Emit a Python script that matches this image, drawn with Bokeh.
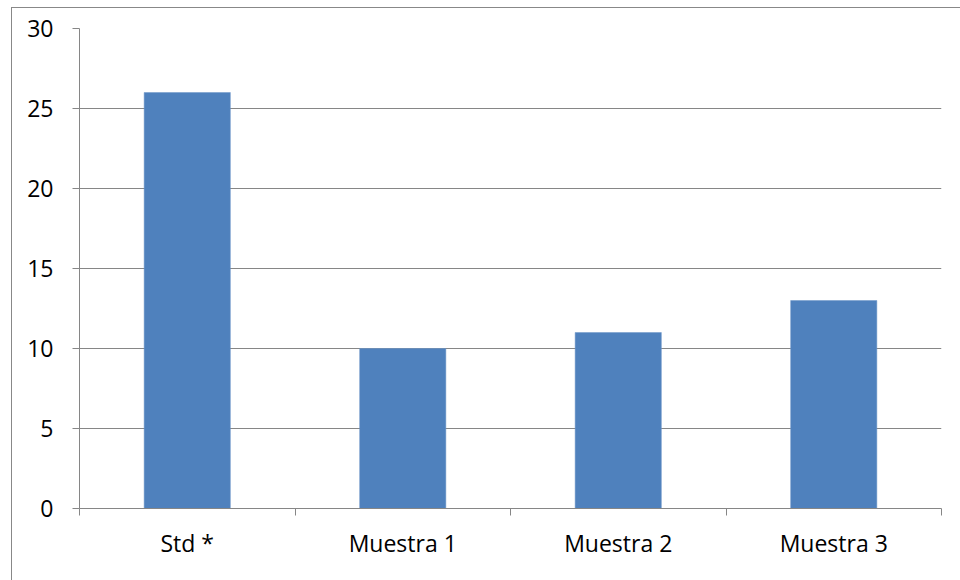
from bokeh.plotting import figure
from bokeh.models import Range1d, FixedTicker, InlineStyleSheet
from bokeh.embed import file_html
from bokeh.resources import INLINE

categories = ["Std *", "Muestra 1", "Muestra 2", "Muestra 3"]
values = [26, 10, 11, 13]
y_ticks = [0, 5, 10, 15, 20, 25, 30]

positions = [i + 0.5 for i in range(len(categories))]
boundaries = list(range(len(categories) + 1))

# outer chart border: only its top and left edges fall inside the window
border_css = InlineStyleSheet(css="""
:host { position: relative; overflow: hidden; }
:host::after {
  content: "";
  position: absolute;
  left: 11px; top: 7px;
  width: 1200px; height: 900px;
  border-left: 1.5px solid #888888;
  border-top: 1.5px solid #888888;
  pointer-events: none;
}
""")

p = figure(width=960, height=580, output_backend="svg", toolbar_location=None,
           x_range=Range1d(0, len(categories)), y_range=Range1d(0, 30),
           min_border_left=79, min_border_right=19, min_border_top=28, min_border_bottom=72)
p.stylesheets = [border_css]
p.outline_line_color = None
p.background_fill_color = "white"
p.border_fill_color = "white"

p.vbar(x=positions, top=values, width=0.4, fill_color="#4F81BD", line_color="#6E96C8", line_width=0.5)

axis_color = "#868686"
font = "Open Sans"
fsize = "23px"

# x axis: labels centered, tick marks at category boundaries (minor ticks)
xa = p.xaxis[0]
xa.ticker = FixedTicker(ticks=positions, minor_ticks=boundaries)
xa.major_label_overrides = {pos: c for pos, c in zip(positions, categories)}
xa.major_tick_out = 0
xa.major_tick_in = 0
xa.minor_tick_out = 7
xa.minor_tick_in = 0
xa.minor_tick_line_color = axis_color
xa.axis_line_color = axis_color
xa.major_label_text_font = font
xa.major_label_text_font_size = fsize
xa.major_label_text_color = "black"
xa.major_label_standoff = 11

ya = p.yaxis[0]
ya.ticker = FixedTicker(ticks=y_ticks, minor_ticks=[])
ya.major_tick_out = 7
ya.major_tick_in = 0
ya.major_tick_line_color = axis_color
ya.axis_line_color = axis_color
ya.major_label_text_font = font
ya.major_label_text_font_size = fsize
ya.major_label_text_color = "black"
ya.major_label_standoff = 19

p.xgrid.visible = False
p.ygrid.ticker = FixedTicker(ticks=y_ticks)
p.ygrid.grid_line_color = axis_color
p.ygrid.grid_line_width = 1

open("out.html", "w").write(file_html(p, INLINE))
